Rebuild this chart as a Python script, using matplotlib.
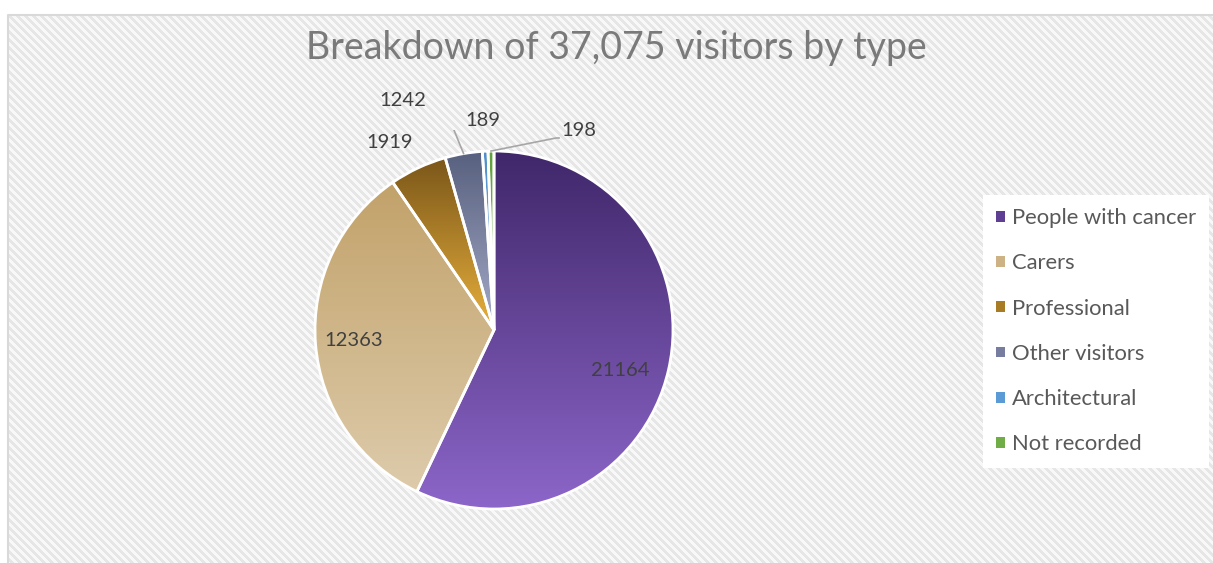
import numpy as np
import matplotlib.pyplot as plt
from matplotlib.colors import LinearSegmentedColormap
from matplotlib.patches import Patch

plt.rcParams["font.family"] = ["Lato", "DejaVu Sans"]

categories = ["People with cancer", "Carers", "Professional",
              "Other visitors", "Architectural", "Not recorded"]
visitors = [21164, 12363, 1919, 1242, 189, 198]

# vertical gradient per slice: top -> bottom
top_colors = ["#40276a", "#c2a26a", "#7a5619", "#57607e", "#4f8fcc", "#62a03c"]
bottom_colors = ["#8c66c9", "#ddcbab", "#e8b03c", "#a4abc8", "#7ab4e4", "#86c35f"]
legend_colors = ["#5e3f94", "#cdb285", "#a87b25", "#767d9e", "#5b9bd5", "#70ad47"]

W, H = 1213, 563
fig = plt.figure(figsize=(W / 100, H / 100), dpi=100)

# striped chart area behind everything
bg = fig.add_axes([0, 0, 1, 1])
yy, xx = np.mgrid[0:H, 0:W]
img = np.where(((xx - yy) % 8) < 4, 0.9, 0.97)
img[:15, :] = 1.0
img[:, :8] = 1.0
bg.imshow(img, cmap="gray", vmin=0, vmax=1, extent=(0, W, H, 0),
          interpolation="nearest", aspect="auto")
bg.plot([8, 8, W], [H, 15, 15], color="#d9d9d9", lw=1.5)
bg.set_xlim(0, W)
bg.set_ylim(H, 0)
bg.axis("off")

bg.text(616, 48, "Breakdown of 37,075 visitors by type", ha="center", va="center",
        fontsize=27, color="#7a7a7a")

# pie: centre (494, 330) px, radius 179 px
R = 179
cx, cy = 494, 330
ax = fig.add_axes([(cx - 200) / W, (H - cy - 200) / H, 400 / W, 400 / H])
wedges, _ = ax.pie(visitors, startangle=90, counterclock=False, radius=1,
                   wedgeprops=dict(edgecolor="white", linewidth=2))

grad = np.linspace(0, 1, 256).reshape(-1, 1)
for w, c0, c1 in zip(wedges, top_colors, bottom_colors):
    bb = w.get_path().get_extents()
    cmap = LinearSegmentedColormap.from_list("g", [c0, c1])
    im = ax.imshow(grad, cmap=cmap, extent=(bb.x0, bb.x1, bb.y0, bb.y1),
                   origin="upper", aspect="auto", zorder=0.5)
    im.set_clip_path(w)
    w.set_facecolor("none")
    w.set_zorder(1)

lim = 200 / R
ax.set_xlim(-lim, lim)
ax.set_ylim(-lim, lim)
ax.set_aspect("equal")
ax.axis("off")

total = sum(visitors)
mid = np.radians(90 - 360 * (np.cumsum(visitors) - np.array(visitors) / 2) / total)
edge = [(np.cos(a), np.sin(a)) for a in mid]

# label offsets from the centre, in px (y up)
label_pos = [(126, -40), (-140, -10), (-104, 187), (-91, 229), (-11, 210), (85, 200)]
for v, (dx, dy) in zip(visitors, label_pos):
    ax.text(dx / R, dy / R, str(v), ha="center", va="center", fontsize=14.5,
            color="#404040")

# leader lines for the two crowded labels
lc = "#a6a6a6"
ex, ey = edge[3]
ax.plot([ex, -49 / R, -61 / R], [ey, 222 / R, 222 / R], color=lc, lw=1.2)
ex, ey = edge[5]
ax.plot([ex, 62 / R, 65 / R], [ey, 192 / R, 192 / R], color=lc, lw=1.2)

handles = [Patch(facecolor=c, edgecolor="none") for c in legend_colors]
leg = fig.legend(handles, categories, loc="upper left",
                 bbox_to_anchor=(983 / W, 1 - 195 / H), frameon=True,
                 fancybox=False, borderaxespad=0, fontsize=15.8,
                 handlelength=0.38, handleheight=0.38, handletextpad=0.35,
                 labelspacing=1.15, borderpad=0.6, labelcolor="#595959")
leg.get_frame().set_facecolor("white")
leg.get_frame().set_edgecolor("none")
leg.get_frame().set_alpha(1)

fig.savefig("out.png", dpi=100)
